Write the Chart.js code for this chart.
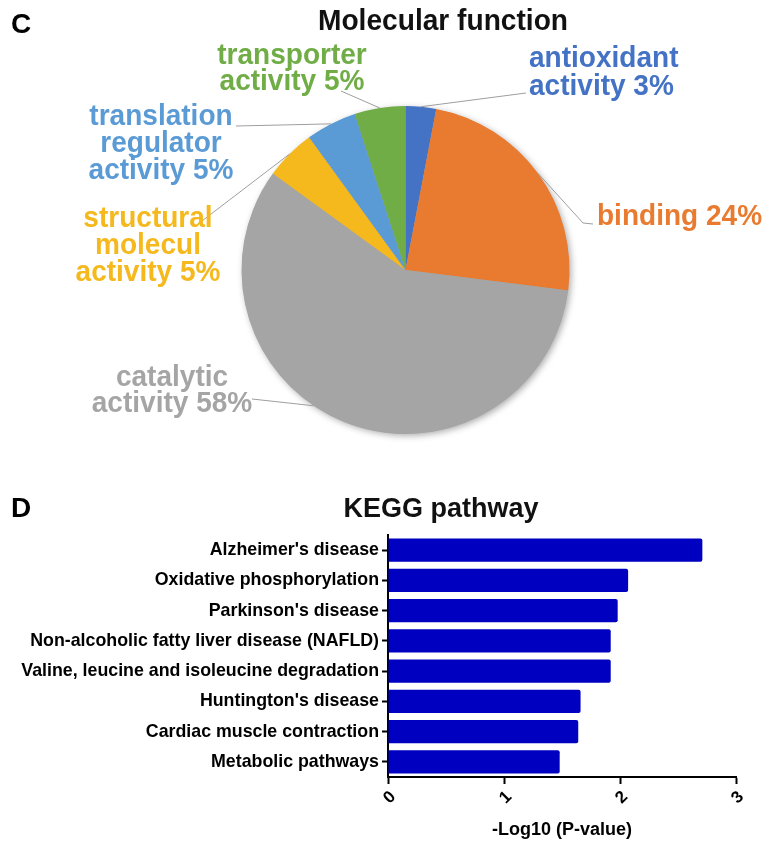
<!DOCTYPE html>
<html><head><meta charset="utf-8">
<script src="https://cdn.jsdelivr.net/npm/chart.js@4/dist/chart.umd.min.js"></script>
<style>
html,body{margin:0;padding:0;background:#fff;}
#wrap{position:relative;width:774px;height:851px;overflow:hidden;background:#fff;}
#pie{position:absolute;left:0;top:0;}
#bar{position:absolute;left:0;top:470px;}
</style></head><body>
<div id="wrap">
<canvas id="pie" width="774" height="470"></canvas>
<canvas id="bar" width="774" height="381"></canvas>
</div>
<script>
// ---------- DATA ----------
const pieCategories = ['antioxidant activity','binding','catalytic activity','structural molecul activity','translation regulator activity','transporter activity'];
const pieValues = [3, 24, 58, 5, 5, 5];
const pieLabelLines = [
  ['antioxidant', 'activity 3%'],
  ['binding 24%'],
  ['catalytic', 'activity 58%'],
  ['structural', 'molecul', 'activity 5%'],
  ['translation', 'regulator', 'activity 5%'],
  ['transporter', 'activity 5%']
];
const keggPathways = [
  "Alzheimer's disease",
  'Oxidative phosphorylation',
  "Parkinson's disease",
  'Non-alcoholic fatty liver disease (NAFLD)',
  'Valine, leucine and isoleucine degradation',
  "Huntington's disease",
  'Cardiac muscle contraction',
  'Metabolic pathways'
];
const keggValues = [2.71, 2.07, 1.98, 1.92, 1.92, 1.66, 1.64, 1.48];
const xTickValues = [0, 1, 2, 3];

// ---------- STYLE ----------
const FONT = "'Liberation Sans', Arial, Helvetica, sans-serif";
const pieColors = ['#4472C4', '#E97B31', '#A5A5A5', '#F5B91E', '#5B9BD5', '#70AD47'];
// label placement (text layout only)
const pieLabelLayout = [
  {align:'left',   x:529, base:[67, 95],       from:[[526,93]],            frac:0.5},
  {align:'left',   x:597, base:[225],          from:[[593,224],[583,223]], frac:0.5},
  {align:'center', x:172, base:[386, 412],     from:[[252,399]],           frac:0.56},
  {align:'center', x:148, base:[227, 254, 281],from:[[198,224]],           frac:0.5},
  {align:'center', x:161, base:[125, 152, 179],from:[[236,126]],           frac:0.5},
  {align:'center', x:292, base:[64, 90],       from:[[341,91]],            frac:0.5}
];

function narrowText(ctx, t, x, y, sx) {
  ctx.save();
  ctx.translate(x, y);
  ctx.scale(sx, 1);
  ctx.fillText(t, 0, 0);
  ctx.restore();
}

const pieDecor = {
  id: 'pieDecor',
  beforeDatasetsDraw(chart) {
    const arc = chart.getDatasetMeta(0).data[0];
    if (!arc) return;
    const p = arc.getProps(['x','y','outerRadius'], true);
    const ctx = chart.ctx;
    ctx.save();
    ctx.shadowColor = 'rgba(0,0,0,0.35)';
    ctx.shadowBlur = 7;
    ctx.shadowOffsetX = 2;
    ctx.shadowOffsetY = 2;
    ctx.fillStyle = '#A5A5A5';
    ctx.beginPath();
    ctx.arc(p.x, p.y, p.outerRadius - 0.5, 0, Math.PI * 2);
    ctx.fill();
    ctx.restore();
  },
  afterDatasetsDraw(chart) {
    const ctx = chart.ctx;
    const meta = chart.getDatasetMeta(0);
    ctx.save();
    // leader lines
    meta.data.forEach((el, i) => {
      const L = pieLabelLayout[i];
      const p = el.getProps(['x','y','startAngle','endAngle','outerRadius'], true);
      const a = p.startAngle + (p.endAngle - p.startAngle) * L.frac;
      const ex = p.x + p.outerRadius * Math.cos(a);
      const ey = p.y + p.outerRadius * Math.sin(a);
      ctx.strokeStyle = '#9E9E9E';
      ctx.lineWidth = 1;
      ctx.beginPath();
      ctx.moveTo(L.from[0][0], L.from[0][1]);
      for (let k = 1; k < L.from.length; k++) ctx.lineTo(L.from[k][0], L.from[k][1]);
      ctx.lineTo(ex, ey);
      ctx.stroke();
    });
    // texts
    ctx.font = 'bold 29.5px ' + FONT;
    ctx.textBaseline = 'alphabetic';
    pieLabelLines.forEach((lines, i) => {
      const L = pieLabelLayout[i];
      ctx.fillStyle = pieColors[i];
      ctx.textAlign = L.align;
      lines.forEach((t, k) => narrowText(ctx, t, L.x, L.base[k], 0.95));
    });
    // panel letter & title
    ctx.fillStyle = '#000';
    ctx.textAlign = 'left';
    ctx.font = 'bold 28px ' + FONT;
    ctx.fillText('C', 11, 33);
    ctx.textAlign = 'center';
    ctx.fillStyle = '#111';
    ctx.font = 'bold 29px ' + FONT;
    narrowText(ctx, 'Molecular function', 443, 30, 0.97);
    ctx.restore();
  }
};

new Chart(document.getElementById('pie'), {
  type: 'pie',
  data: {
    labels: pieCategories,
    datasets: [{ data: pieValues, backgroundColor: pieColors, borderWidth: 0 }]
  },
  options: {
    responsive: false, animation: false, devicePixelRatio: 1,
    layout: { padding: { top: 106, bottom: 36, left: 37, right: 0 } },
    plugins: { legend: { display: false }, tooltip: { enabled: false } }
  },
  plugins: [pieDecor]
});

const barDecor = {
  id: 'barDecor',
  afterDraw(chart) {
    const ctx = chart.ctx;
    ctx.save();
    ctx.fillStyle = '#000';
    ctx.textAlign = 'left';
    ctx.textBaseline = 'alphabetic';
    ctx.font = 'bold 28px ' + FONT;
    ctx.fillText('D', 11, 47);
    ctx.textAlign = 'center';
    ctx.fillStyle = '#111';
    ctx.font = 'bold 27px ' + FONT;
    ctx.fillText('KEGG pathway', 441, 47);
    ctx.restore();
  }
};

new Chart(document.getElementById('bar'), {
  type: 'bar',
  data: {
    labels: keggPathways,
    datasets: [{
      data: keggValues,
      backgroundColor: '#0000C0',
      borderRadius: 2,
      borderSkipped: 'start',
      barPercentage: 0.77,
      categoryPercentage: 1
    }]
  },
  options: {
    indexAxis: 'y',
    responsive: false, animation: false, devicePixelRatio: 1,
    layout: { padding: { top: 65, right: 38, left: 0, bottom: 0 } },
    plugins: { legend: { display: false }, tooltip: { enabled: false } },
    scales: {
      x: {
        type: 'linear', min: 0, max: 3,
        afterBuildTicks: s => { s.ticks = xTickValues.map(v => ({ value: v })); },
        ticks: { font: { family: FONT, size: 17, weight: 'bold' }, color: '#000', minRotation: 45, maxRotation: 45, padding: 3, labelOffset: 5 },
        grid: { display: true, drawOnChartArea: false, drawTicks: true, tickLength: 7, tickWidth: 2, tickColor: '#000' },
        border: { display: true, color: '#000', width: 2 },
        title: { display: true, text: '-Log10 (P-value)', font: { family: FONT, size: 18, weight: 'bold' }, color: '#000', padding: { top: 0, bottom: 10 } },
        afterFit: s => { s.height = 74; }
      },
      y: {
        ticks: { font: { family: FONT, size: 17.8, weight: 'bold' }, color: '#000', padding: 3 },
        grid: { display: true, offset: false, drawOnChartArea: false, drawTicks: true, tickLength: 6, tickWidth: 2, tickColor: '#000' },
        border: { display: true, color: '#000', width: 2 },
        afterFit: s => { s.width = 388; }
      }
    }
  },
  plugins: [barDecor]
});
</script>
</body></html>
